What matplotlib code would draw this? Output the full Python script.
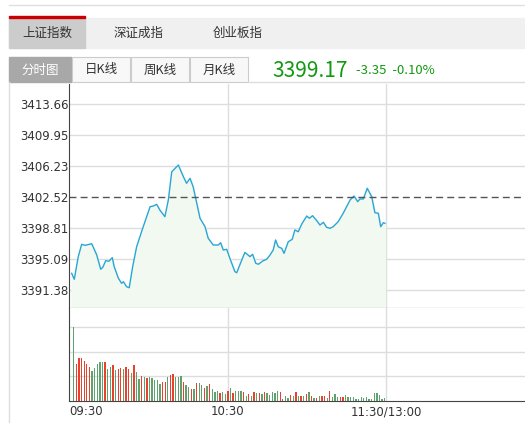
import numpy as np
import matplotlib.pyplot as plt
from matplotlib.patches import Rectangle

plt.rcParams['font.family'] = ['Noto Sans CJK SC', 'DejaVu Sans']

# minutes since 09:30 and index level
minutes = [1.0, 2.0, 3.5, 4.8, 6.1, 8.6, 10.5, 12.0, 12.8, 13.9, 15.1, 16.4, 17.1, 18.7, 19.9, 20.6,
           21.8, 22.8, 24.1, 25.6, 28.1, 30.7, 31.9, 33.2, 34.4, 36.3, 37.6, 38.9, 41.4, 43.3, 44.5,
           45.8, 47.0, 49.6, 51.5, 52.7, 54.6, 56.5, 57.4, 58.4, 59.7, 60.9, 62.8, 63.5, 65.4, 66.6,
           68.5, 69.5, 70.7, 71.7, 73.5, 74.8, 76.1, 77.3, 78.2, 79.2, 80.5, 81.4, 83.0, 84.5, 85.5,
           86.8, 88.1, 90.0, 91.0, 92.2, 93.8, 95.0, 96.3, 97.5, 98.8, 100.0, 101.9, 103.8, 106.4,
           107.9, 109.3, 110.1, 111.4, 112.9, 114.6, 115.8, 117.1, 118.0, 119.0, 119.6]
prices = [3393.38, 3392.66, 3395.37, 3396.85, 3396.73, 3396.92, 3395.57, 3393.86, 3394.10, 3394.89,
          3394.82, 3395.25, 3394.17, 3392.78, 3392.18, 3392.37, 3391.77, 3391.65, 3394.17, 3396.56,
          3398.96, 3401.36, 3401.44, 3401.64, 3400.96, 3400.16, 3402.16, 3405.55, 3406.35, 3404.95,
          3404.16, 3404.76, 3403.75, 3399.97, 3398.96, 3397.57, 3396.77, 3396.77, 3397.04, 3396.17,
          3396.25, 3395.17, 3393.57, 3393.45, 3394.97, 3395.89, 3395.37, 3395.65, 3394.58, 3394.46,
          3394.89, 3395.05, 3395.57, 3396.17, 3397.37, 3396.56, 3396.37, 3395.77, 3397.16, 3397.45,
          3398.57, 3398.36, 3399.28, 3400.24, 3399.97, 3400.28, 3399.68, 3399.16, 3399.49, 3398.89,
          3398.77, 3398.96, 3399.56, 3400.57, 3402.16, 3402.64, 3401.96, 3402.28, 3402.28, 3403.56,
          3402.55, 3400.64, 3400.57, 3398.96, 3399.44, 3399.37]

# per-minute volume (arbitrary units) and up/down flag
volumes = [223, 112, 129, 129, 120, 112, 102, 91, 99, 111, 117, 117, 117, 96, 102, 108, 94, 96, 99,
           97, 102, 96, 85, 108, 87, 67, 75, 71, 68, 71, 68, 64, 63, 52, 57, 57, 73, 78, 81, 72, 71,
           75, 58, 47, 43, 36, 36, 54, 54, 47, 39, 45, 51, 35, 27, 30, 25, 27, 21, 30, 38, 25, 30,
           30, 29, 26, 15, 21, 15, 27, 24, 24, 22, 27, 25, 19, 28, 25, 31, 28, 7, 15, 10, 17, 14,
           27, 15, 15, 16, 20, 26, 15, 9, 9, 14, 14, 15, 9, 30, 12, 20, 12, 12, 12, 17, 13, 11, 13,
           6, 5, 13, 9, 13, 7, 6, 23, 23, 18, 7, 8]
up = 'grrrrrrgggggrggrgrrgrrgrggrgrgggggrrgrrgggrggrgrggrgrgggrggrgrgggrgrgrgrgrgggggrrggrgrgrgrgrgrgrrgrgggrrg'

prev_close = 3402.52
ytick_vals = [3413.66, 3409.95, 3406.23, 3402.52, 3398.81, 3395.09, 3391.38]

fig = plt.figure(figsize=(5.25, 4.23), dpi=100)
W, H = 525, 423

def fx(x):
    return x / W

def fy(y):
    return 1 - y / H

# tab bars
fig.patches.append(Rectangle((fx(9), fy(48)), fx(516), 30 / H, transform=fig.transFigure,
                             color='#f0f0f0', zorder=0))
fig.patches.append(Rectangle((fx(9), fy(48)), fx(76), 30 / H, transform=fig.transFigure,
                             color='#cccccc', zorder=1))
fig.patches.append(Rectangle((fx(9), fy(18)), fx(76), 2 / H, transform=fig.transFigure,
                             color='#cc0000', zorder=2))
fig.lines.append(plt.Line2D([fx(9), 1], [fy(5), fy(5)], color='#e0e0e0', lw=1, transform=fig.transFigure))
for x, t in [(47, '上证指数'), (139, '深证成指'), (238, '创业板指')]:
    fig.text(fx(x), fy(33), t, ha='center', va='center', fontsize=9, color='#333333')

fig.patches.append(Rectangle((fx(9), fy(82)), fx(62), 25 / H, transform=fig.transFigure,
                             color='#a8a8a8', zorder=1))
fig.text(fx(40), fy(70), '分时图', ha='center', va='center', fontsize=9, color='white')
for x0, t in [(72, '日K线'), (131, '周K线'), (190, '月K线')]:
    fig.patches.append(Rectangle((fx(x0), fy(82)), fx(58), 25 / H, transform=fig.transFigure,
                                 facecolor='#f8f8f8', edgecolor='#cccccc', lw=0.8, zorder=1))
    fig.text(fx(x0 + 29), fy(70), t, ha='center', va='center', fontsize=9, color='#333333')
fig.text(fx(272), fy(71), '3399.17', ha='left', va='center', fontsize=15, color='#119911')
fig.text(fx(356), fy(71), '-3.35  -0.10%', ha='left', va='center', fontsize=9.5, color='#119911')
fig.lines.append(plt.Line2D([fx(248), 1], [fy(82), fy(82)], color='#dddddd', lw=1, transform=fig.transFigure))
fig.lines.append(plt.Line2D([fx(9), fx(9)], [0, fy(82)], color='#dddddd', lw=1, transform=fig.transFigure))

xmax = (W - 69) / 317 * 120

# price panel
ax = fig.add_axes([fx(69), fy(308), 1 - fx(69), 224 / H])
ax.plot(minutes, prices, color='#2aa6d6', lw=1)
ax.fill_between(minutes, prices, 3380, color='#f1f9f1')
ax.axhline(prev_close, color='#555555', lw=1, ls=(0, (5, 3)))
for v in ytick_vals:
    if v != prev_close:
        ax.axhline(v, color='#dddddd', lw=1, zorder=0)
for m in [60, 120]:
    ax.axvline(m, color='#dddddd', lw=1, zorder=0)
ax.set_xlim(0, xmax)
ax.set_ylim(3389.22, 3416.06)
ax.set_xticks([])
ax.set_yticks(ytick_vals)
ax.set_yticklabels([f'{v:.2f}' for v in ytick_vals], fontsize=8.5, color='#333333', ha='left',
                   family='DejaVu Sans')
ax.tick_params(axis='y', length=0, pad=49)
for s in ['top', 'right']:
    ax.spines[s].set_visible(False)
for s in ['left', 'bottom']:
    ax.spines[s].set_color('#444444')

# volume panel
vx = np.linspace(1.8, 119.5, len(volumes))
colors = ['#5fa26f' if c == 'g' else '#e8412f' for c in up[:len(volumes)]]
colors += ['#5fa26f'] * (len(volumes) - len(colors))
axv = fig.add_axes([fx(69), fy(401), 1 - fx(69), 93 / H])
axv.bar(vx, volumes, width=0.5, color=colors)
for v in [74, 147, 221]:
    axv.axhline(v, color='#dddddd', lw=1, zorder=0)
for m in [60, 120]:
    axv.axvline(m, color='#dddddd', lw=1, zorder=0)
axv.set_xlim(0, xmax)
axv.set_ylim(0, 279)
axv.set_yticks([])
axv.set_xticks([0, 60, 120])
axv.set_xticklabels(['09:30', '10:30', '11:30/13:00'], fontsize=8.5, color='#333333',
                    family='DejaVu Sans')
axv.get_xticklabels()[0].set_ha('left')
axv.tick_params(axis='x', length=0, pad=3)
for s in ['top', 'right']:
    axv.spines[s].set_visible(False)
for s in ['left', 'bottom']:
    axv.spines[s].set_color('#444444')

# shift y tick labels to start at x=20 px
for lab in ax.get_yticklabels():
    lab.set_x(-(69 - 20) / (W - 69))
ax.tick_params(axis='y', pad=0)
for lab in ax.get_yticklabels():
    lab.set_transform(ax.get_yaxis_transform())

fig.savefig('out.png', dpi=100)
